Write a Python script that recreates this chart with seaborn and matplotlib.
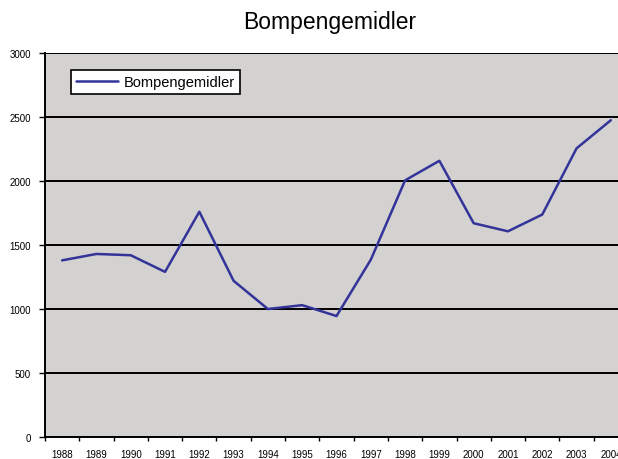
import numpy as np
import pandas as pd
import seaborn as sns
import matplotlib.pyplot as plt
from matplotlib.ticker import MultipleLocator, FixedLocator

years = ['1988', '1989', '1990', '1991', '1992', '1993', '1994', '1995', '1996',
         '1997', '1998', '1999', '2000', '2001', '2002', '2003', '2004']
values = [1380, 1430, 1420, 1290, 1760, 1220, 1000, 1030, 945,
          1385, 2005, 2158, 1670, 1607, 1738, 2255, 2475]
series_name = 'Bompengemidler'

df = pd.DataFrame({'year': years, 'value': values})

sns.set_style('white')
plt.rcParams['font.family'] = ['Liberation Sans', 'DejaVu Sans']
plt.rcParams['text.color'] = 'black'
plt.rcParams['xtick.color'] = 'black'
plt.rcParams['ytick.color'] = 'black'

fig = plt.figure(figsize=(6.18, 4.60), dpi=100)
# plot area runs past the right edge like in the original
ax = fig.add_axes([45 / 618, 1 - 438 / 460, (628 - 45) / 618, (438 - 54) / 460])
ax.set_facecolor('#d3d2d1')

sns.lineplot(data=df, x='year', y='value', sort=False, color='#333399',
             linewidth=1.8, label=series_name, ax=ax)

ax.set_xlim(-0.5, len(years) - 0.5)
ax.set_ylim(0, 3000)
ax.yaxis.set_major_locator(MultipleLocator(500))
ax.grid(axis='y', color='black', linewidth=1.4)
ax.set_axisbelow(True)

# labels centred on categories, tick marks on boundaries
ax.set_xticks(range(len(years)))
ax.set_xticklabels(years)
ax.xaxis.set_minor_locator(FixedLocator(np.arange(-0.5, len(years), 1)))
ax.tick_params(axis='x', which='major', length=0, pad=9, labelsize=7, labelcolor='black')
ax.tick_params(axis='x', which='minor', length=3, width=1, color='black', direction='out', bottom=True)
ax.tick_params(axis='y', length=4, width=1, color='black', direction='out', left=True, pad=6,
               labelsize=7, labelcolor='black')

for s in ['top', 'right']:
    ax.spines[s].set_visible(False)
for s in ['left', 'bottom']:
    ax.spines[s].set_color('black')
    ax.spines[s].set_linewidth(1.4)

ax.set_xlabel('')
ax.set_ylabel('')

leg = ax.legend(loc='upper left', bbox_to_anchor=(0.044, 0.956), fontsize=10.5,
                frameon=True, fancybox=False, borderpad=0.35, handlelength=2.9,
                handletextpad=0.4, borderaxespad=0)
leg.get_frame().set_edgecolor('black')
leg.get_frame().set_linewidth(1.2)
leg.get_frame().set_facecolor('white')
leg.get_frame().set_alpha(1)
for t in leg.get_texts():
    t.set_color('black')

fig.text(330 / 618, 1 - 22 / 460, 'Bompengemidler', ha='center', va='center',
         fontsize=16.5, color='black')

fig.savefig('out.png', dpi=100)
